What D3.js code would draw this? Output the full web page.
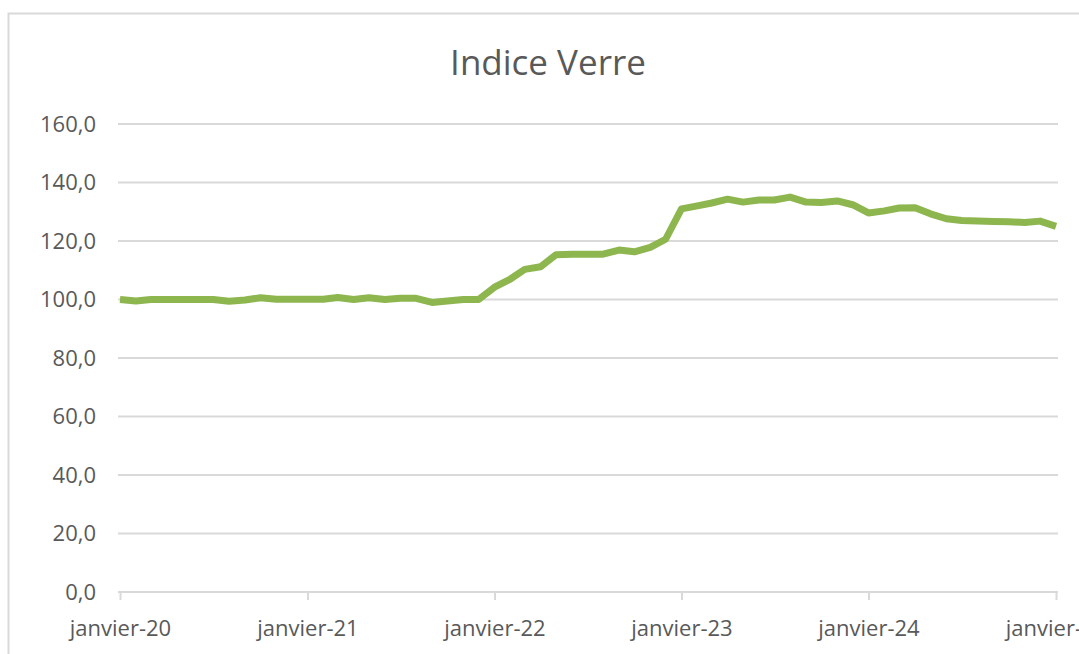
<!DOCTYPE html>
<html>
<head>
<meta charset="utf-8">
<script src="https://cdn.jsdelivr.net/npm/d3@7"></script>
<style>
  body { margin: 0; background: #fff; }
  text { font-family: "Open Sans", "Noto Sans", sans-serif; fill: #595959; }
</style>
</head>
<body>
<svg id="chart" width="1079" height="654"></svg>
<script>
// monthly index values, janvier 2020 -> janvier 2025
const startMonth = new Date(2020, 0, 1);
const values = [
  100.0, 99.5, 100.0, 100.0, 100.0, 100.0, 100.0, 99.4, 99.8, 100.6, 100.1, 100.1,
  100.1, 100.1, 100.7, 100.0, 100.6, 100.0, 100.4, 100.4, 99.0, 99.5, 100.0, 100.0,
  104.2, 107.0, 110.3, 111.2, 115.3, 115.5, 115.5, 115.5, 116.9, 116.3, 117.8, 120.6,
  131.0, 132.0, 133.0, 134.3, 133.3, 134.0, 134.0, 135.0, 133.3, 133.2, 133.7, 132.4,
  129.6, 130.3, 131.3, 131.4, 129.3, 127.6, 127.0, 126.8, 126.7, 126.6, 126.3, 126.8,
  125.0
];
const yTicks = [0, 20, 40, 60, 80, 100, 120, 140, 160];
const xTickYears = [2020, 2021, 2022, 2023, 2024, 2025];
const moisFr = ["janvier", "février", "mars", "avril", "mai", "juin", "juillet",
  "août", "septembre", "octobre", "novembre", "décembre"];

const data = values.map((v, i) => ({ date: d3.timeMonth.offset(startMonth, i), value: v }));

const svg = d3.select("#chart");
const plot = { left: 120, right: 1056, top: 124, bottom: 592 };

// chart frame (runs past the right and bottom edge, as in the source)
svg.append("rect")
  .attr("x", 8.5).attr("y", 13.5)
  .attr("width", 1200).attr("height", 800)
  .attr("fill", "#fff")
  .attr("stroke", "#d9d9d9")
  .attr("stroke-width", 2);

const x = d3.scaleTime()
  .domain([new Date(2020, 0, 1), new Date(2025, 0, 1)])
  .range([plot.left, plot.right]);
const y = d3.scaleLinear().domain([0, 160]).range([plot.bottom, plot.top]);

svg.append("text")
  .attr("x", 548).attr("y", 75)
  .attr("text-anchor", "middle")
  .style("font-size", "35px")
  .text("Indice Verre");

// horizontal gridlines + y labels
const fmt = d => d3.format(".1f")(d).replace(".", ",");
const yAxis = svg.append("g").attr("class", "axis axis--y");
yAxis.selectAll("line")
  .data(yTicks.filter(d => d > 0))
  .enter()
  .append("line")
  .attr("x1", plot.left - 2).attr("x2", plot.right + 2)
  .attr("y1", d => y(d)).attr("y2", d => y(d))
  .attr("stroke", "#d9d9d9")
  .attr("stroke-width", 2);
yAxis.selectAll("text")
  .data(yTicks)
  .enter()
  .append("text")
  .attr("x", 96)
  .attr("y", d => y(d))
  .attr("dy", ".35em")
  .attr("text-anchor", "end")
  .style("font-size", "22px")
  .text(fmt);

// x axis
const xAxis = svg.append("g")
  .attr("class", "axis axis--x")
  .attr("transform", `translate(0,${plot.bottom})`)
  .call(d3.axisBottom(x)
    .tickValues(xTickYears.map(yr => new Date(yr, 0, 1)))
    .tickSize(8)
    .tickPadding(20)
    .tickFormat(d => moisFr[d.getMonth()] + "-" + String(d.getFullYear()).slice(2)));
xAxis.select(".domain").attr("stroke", "#d9d9d9").attr("stroke-width", 2)
  .attr("d", `M${plot.left - 2},0H${plot.right + 2}`);
xAxis.selectAll(".tick line").attr("stroke", "#d9d9d9").attr("stroke-width", 2);
xAxis.selectAll(".tick text")
  .style("font-size", "22px")
  .attr("fill", "#595959")
  .style("font-family", "'Open Sans', 'Noto Sans', sans-serif");

// the series
const line = d3.line()
  .x(d => x(d.date))
  .y(d => y(d.value));

svg.append("path")
  .datum(data)
  .attr("d", line)
  .attr("fill", "none")
  .attr("stroke", "#8db64f")
  .attr("stroke-width", 7)
  .attr("stroke-linejoin", "round");
</script>
</body>
</html>
